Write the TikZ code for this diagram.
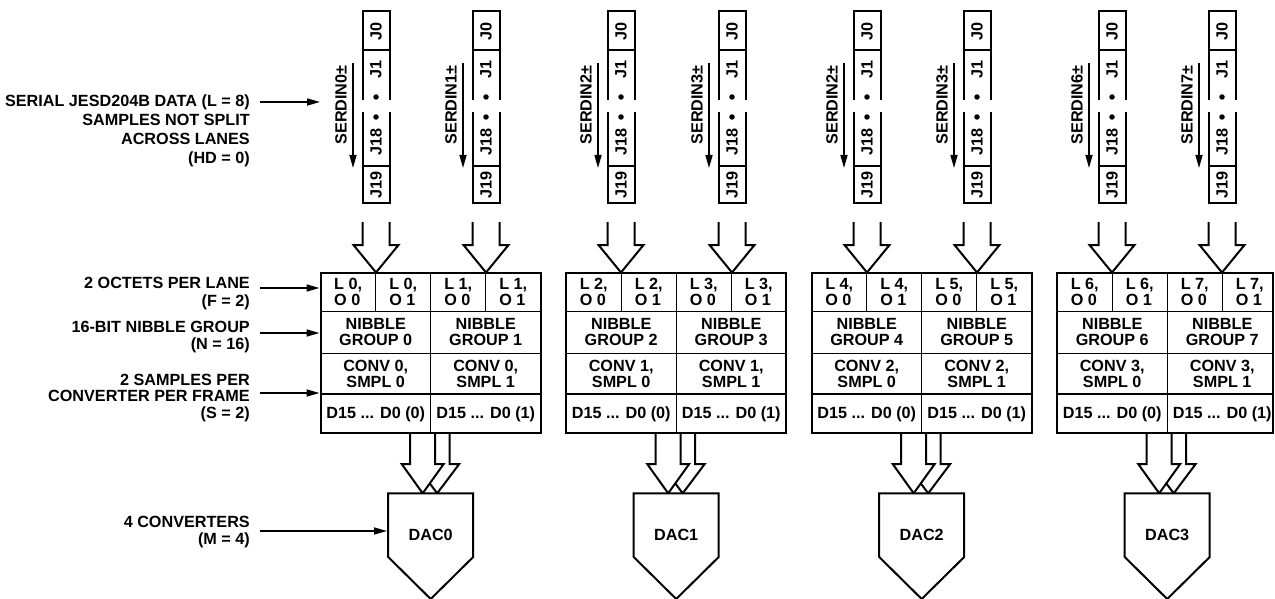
\documentclass[tikz,border=0pt]{standalone}
\usepackage{fontspec}
\setmainfont{Liberation Sans}
\usepackage{tikz}
\usetikzlibrary{arrows.meta,positioning,calc}

% hollow arrow: centre x, shaft top, head base, tip, shaft half width, head half width
\newcommand{\hollowarrow}[6]{%
  \draw[outline,fill=white] (#1-#5,#2) -- (#1-#5,#3) -- (#1-#6,#3) -- (#1,#4)
    -- (#1+#6,#3) -- (#1+#5,#3) -- (#1+#5,#2);}

\begin{document}
\begin{tikzpicture}[x=1pt,y=-1pt,>={Triangle[length=13pt,width=7pt]},
  every node/.style={font=\fontsize{16.2}{17.5}\selectfont\bfseries,inner sep=0pt},
  cell/.style={align=center,font=\fontsize{16.2}{16}\selectfont\bfseries},
  dot/.style={circle,fill,minimum size=5.5pt},
  outline/.style={line width=2pt},
  divider/.style={line width=1.2pt},
  pointer/.style={->,line width=1.5pt},
  lbl/.style={anchor=east,align=right}]
  \useasboundingbox (0,0) rectangle (1275,599);

  % serial lanes
  \foreach \c/\s [count=\i from 0] in {376/0,486/1,621/2,732/3,867/2,977/3,1112/6,1222/7}{
    \draw[outline] (\c-13.5,100) -- (\c-13.5,11.5) -- (\c+13.5,11.5) -- (\c+13.5,100)
                   (\c-13.5,112) -- (\c-13.5,202.5) -- (\c+13.5,202.5) -- (\c+13.5,112);
    \draw[divider] (\c-13.5,50) -- (\c+13.5,50) (\c-13.5,166) -- (\c+13.5,166);
    \node[rotate=90] (jz\i) at (\c,31) {J0};
    \node[rotate=90] (jo\i) at (\c,69) {J1};
    \node[dot] (da\i) at (\c,97) {};
    \node[dot] (db\i) at (\c,117) {};
    \node[rotate=90] (je\i) at (\c,142) {J18};
    \node[rotate=90] (jn\i) at (\c,185) {J19};
    \node[rotate=90] (sd\i) at (\c-35,105) {SERDIN\s±};
    \coordinate (sdtop\i) at (\c-23,63);
    \coordinate (sdend\i) at (\c-23,168);
    \draw[pointer] (sdtop\i) -- (sdend\i);
    \hollowarrow{\c}{222}{245}{272.5}{13.5}{22.5}
  }

  % converters
  \foreach \m/\k in {430.7/0,676.2/1,921.7/2,1167.2/3}{
    \hollowarrow{\m+6.5}{433.3}{464}{493.3}{12.5}{22}
    \hollowarrow{\m-8}{433.3}{464}{493.3}{12.5}{21}
    \draw[outline,fill=white] (\m-42.5,493.3) -- (\m+42.5,493.3) -- (\m+42.5,557)
      -- (\m,599) -- (\m-42.5,557) -- cycle;
    \node (dac\k) at (\m,535) {DAC\k};
  }

  % frame blocks
  \foreach \L/\R/\k/\la/\lb in {320.7/540.7/0/0/1,566.2/786.2/1/2/3,811.7/1031.7/2/4/5,1057.2/1273/3/6/7}{
    \draw[outline] (\L,273.3) rectangle (\R,433.3);
    \draw[divider] (\L,311.5) -- (\R,311.5) (\L,353.3) -- (\R,353.3) (\L,394) -- (\R,394)
      (\L+110,273.3) -- (\L+110,433.3) (\L+55,273.3) -- (\L+55,311.5) (\L+165,273.3) -- (\L+165,311.5);
    \node[cell,align=left] (oa\la) at (\L+27.5,292) {L \la,\\O 0};
    \node[cell,align=left] (ob\la) at (\L+82.5,292) {L \la,\\O 1};
    \node[cell,align=left] (oa\lb) at (\L+137.5,292) {L \lb,\\O 0};
    \node[cell,align=left] (ob\lb) at (\L+192.5,292) {L \lb,\\O 1};
    \node[cell] (ng\la) at (\L+55,332.5) {NIBBLE\\GROUP \la};
    \node[cell] (ng\lb) at (\L+165,332.5) {NIBBLE\\GROUP \lb};
    \node[cell] (cs\la) at (\L+55,373.5) {CONV \k,\\SMPL 0};
    \node[cell] (cs\lb) at (\L+165,373.5) {CONV \k,\\SMPL 1};
    \node (dd\la) at (\L+55,414) {D15 ... D0 (0)};
    \node (dd\lb) at (\L+165,414) {D15 ... D0 (1)};
  }

  % labels on the left
  \coordinate (serin) at (320,102);
  \coordinate (octin) at (319.5,288);
  \coordinate (nibin) at (319.5,333);
  \coordinate (smpin) at (319.5,393);
  \coordinate (cvtin) at (387,531);
  \node[lbl,font=\fontsize{16.2}{19}\selectfont\bfseries] (serlbl) at (250,130.5)
    {SERIAL JESD204B DATA (L = 8)\\SAMPLES NOT SPLIT\\ACROSS LANES\\(HD = 0)};
  \node[lbl] (octlbl) at (250,293.5) {2 OCTETS PER LANE\\(F = 2)};
  \node[lbl] (niblbl) at (250,337) {16-BIT NIBBLE GROUP\\(N = 16)};
  \node[lbl,font=\fontsize{16.2}{16.5}\selectfont\bfseries] (smplbl) at (250,398)
    {2 SAMPLES PER\\CONVERTER PER FRAME\\(S = 2)};
  \node[lbl] (cvtlbl) at (250,532) {4 CONVERTERS\\(M = 4)};
  \draw[pointer] ($(serlbl.east |- serin)+(10,0)$) -- (serin);
  \draw[pointer] ($(octlbl.east |- octin)+(10,0)$) -- (octin);
  \draw[pointer] ($(niblbl.east |- nibin)+(10,0)$) -- (nibin);
  \draw[pointer] ($(smplbl.east |- smpin)+(10,0)$) -- (smpin);
  \draw[pointer] ($(cvtlbl.east |- cvtin)+(10,0)$) -- (cvtin);
\end{tikzpicture}
\end{document}
